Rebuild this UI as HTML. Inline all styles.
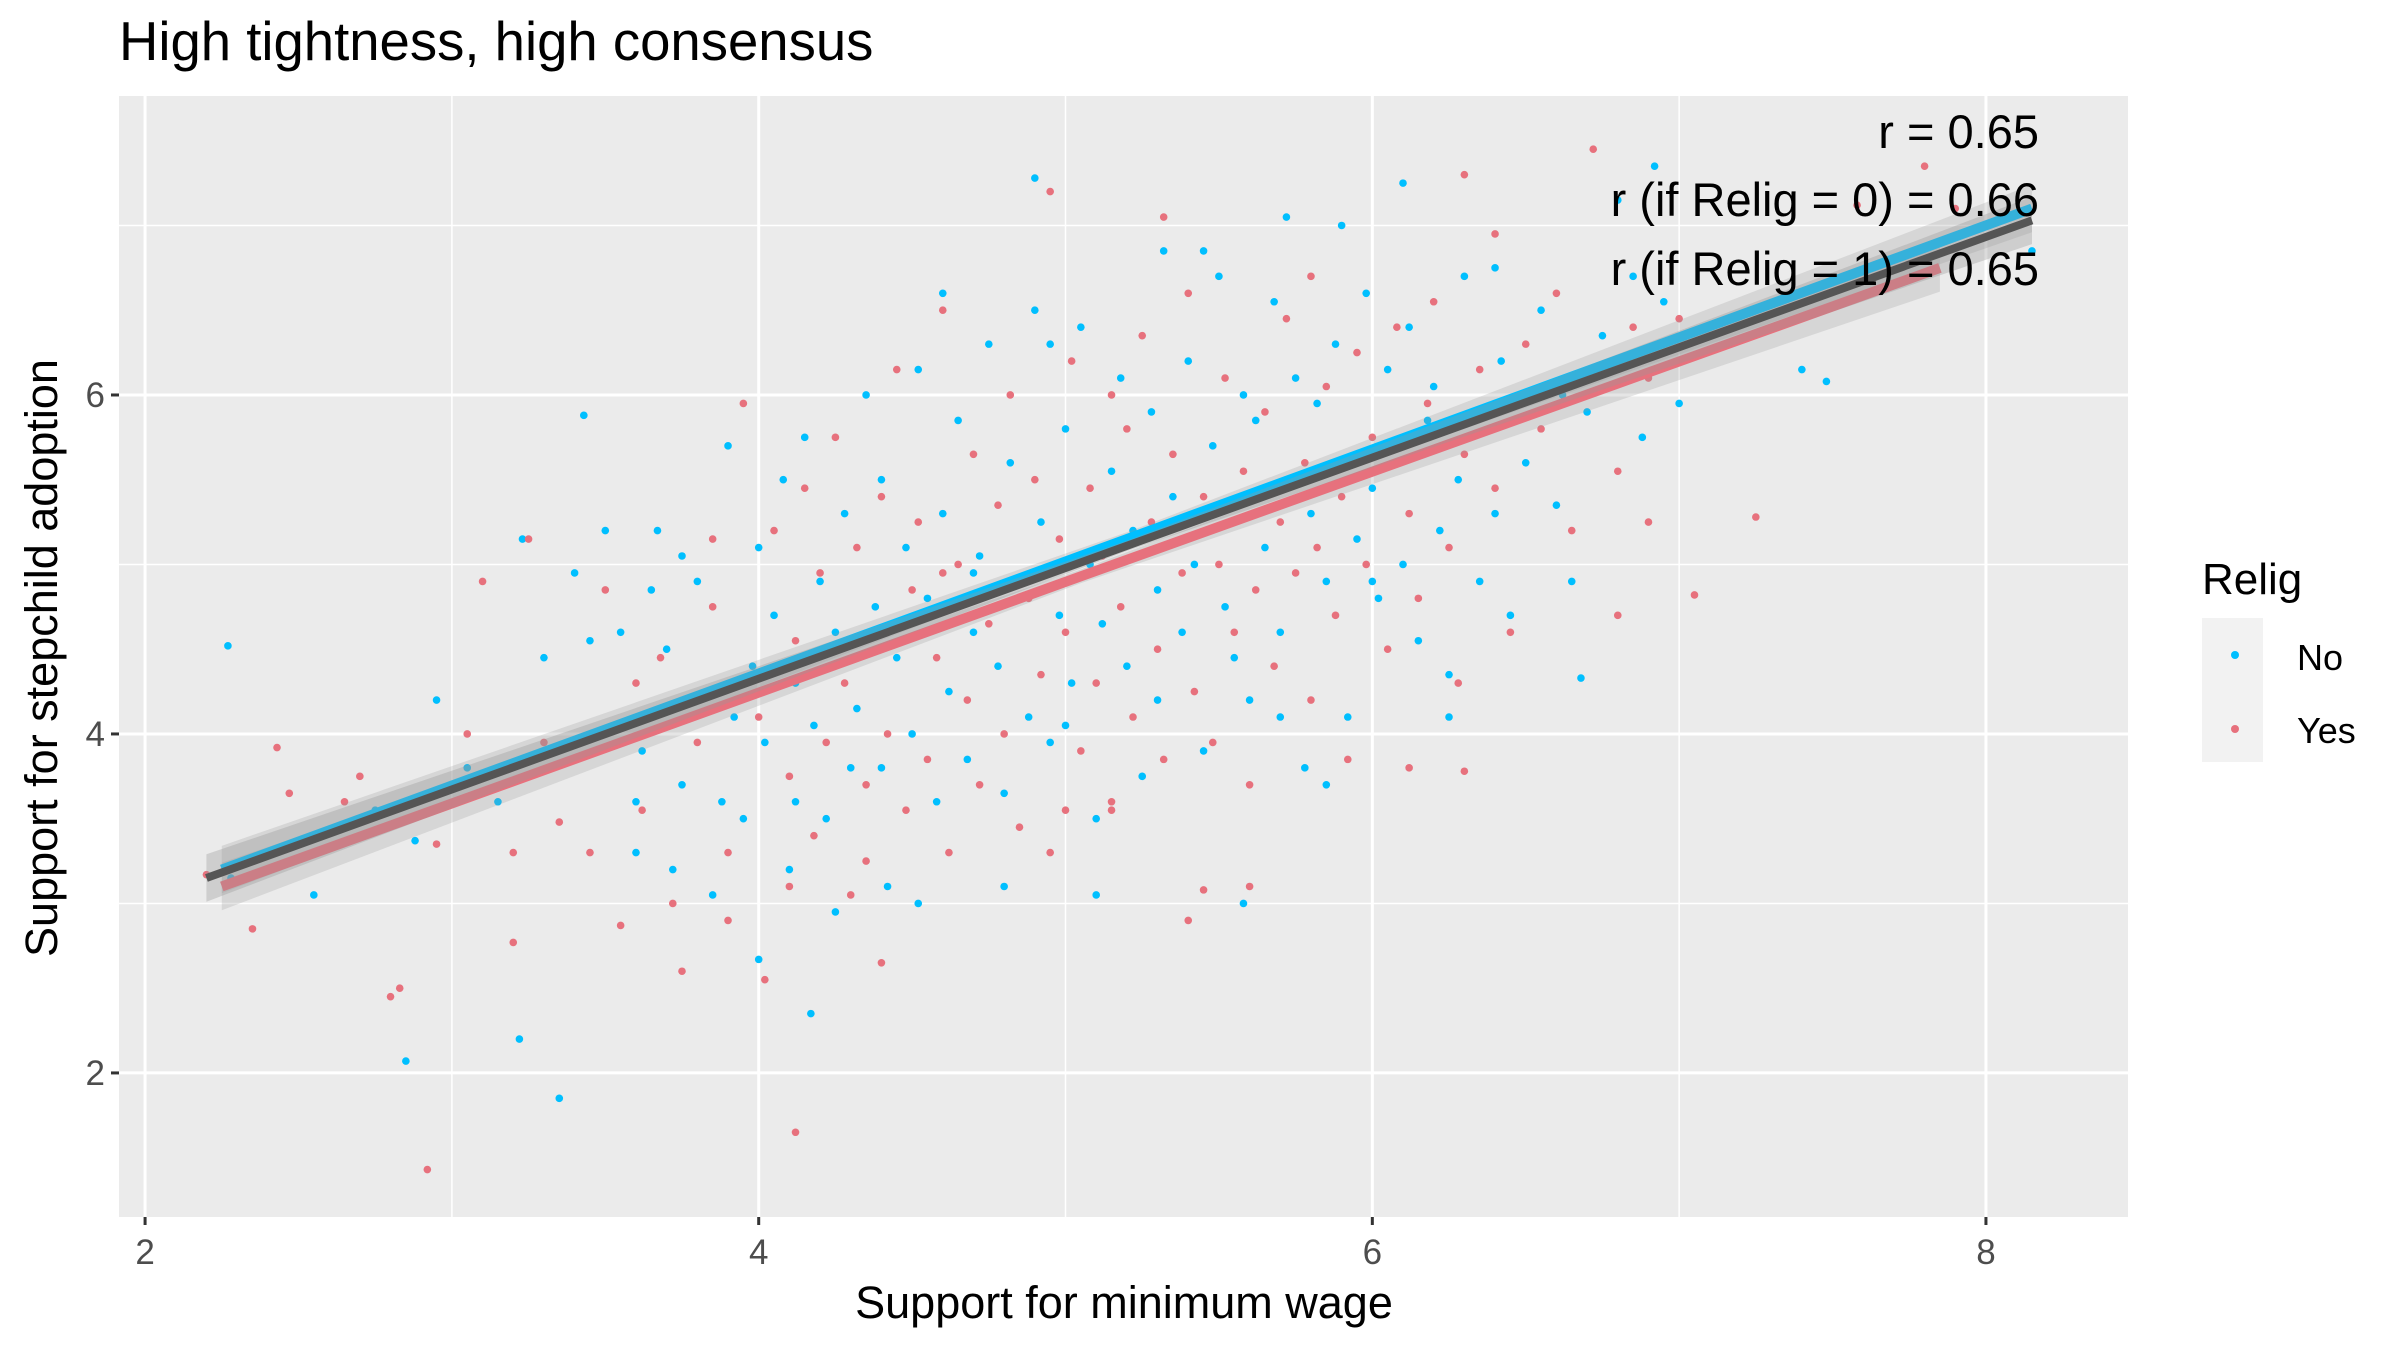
<!DOCTYPE html>
<html><head><meta charset="utf-8"><style>
html,body{margin:0;padding:0;background:#fff;}
svg{display:block;font-family:"Liberation Sans",sans-serif;}
</style></head><body>
<svg id="chart" width="2400" height="1350" viewBox="0 0 2400 1350" xmlns="http://www.w3.org/2000/svg">
<rect width="2400" height="1350" fill="#fff"/>
<text x="119" y="60" font-size="54.5" fill="#000">High tightness, high consensus</text>
<rect x="119" y="96" width="2009" height="1121" fill="#ebebeb"/>
<g id="grid"></g><g id="pts"></g><g id="fits"></g><g id="axes"></g>
<g font-size="47" text-anchor="end" fill="#000">
<text x="2039" y="148">r = 0.65</text>
<text x="2039" y="216">r (if Relig = 0) = 0.66</text>
<text x="2039" y="285">r (if Relig = 1) = 0.65</text>
</g>
<text x="1124" y="1318" font-size="45" text-anchor="middle">Support for minimum wage</text>
<text transform="translate(57,658) rotate(-90)" font-size="45" text-anchor="middle">Support for stepchild adoption</text>
<g>
<text x="2202" y="594" font-size="44">Relig</text>
<rect x="2202" y="618" width="61" height="144" fill="#f2f2f2"/>
<circle cx="2235" cy="655" r="4" fill="#00bfff"/>
<circle cx="2235" cy="729" r="4" fill="#e7717d"/>
<text x="2297" y="670" font-size="36">No</text>
<text x="2297" y="743" font-size="36">Yes</text>
</g>
</svg>
<script>
const xTicks = [2, 4, 6, 8];
const yTicks = [2, 4, 6];
const noPts = [[2.27,4.52],[2.28,3.15],[2.55,3.05],[2.85,2.07],[2.88,3.37],[2.95,4.2],[3.22,2.2],[3.23,5.15],[3.35,1.85],[3.43,5.88],[3.5,5.2],[3.67,5.2],[4.0,2.67],[4.17,2.35],[4.52,3.0],[4.9,7.28],[5.58,3.0],[5.72,7.05],[6.1,7.25],[6.92,7.35],[6.8,7.15],[7.4,6.15],[7.48,6.08],[8.15,6.85],[6.68,4.33],[5.1,3.05],[4.8,3.1],
[3.55,4.6],[3.6,3.3],[3.62,3.9],[3.7,4.5],[3.75,3.7],[3.8,4.9],[3.85,3.05],[3.9,5.7],[3.92,4.1],[3.95,3.5],[3.98,4.4],[4.0,5.1],[4.02,3.95],[4.05,4.7],[4.08,5.5],[4.1,3.2],[4.12,4.3],[4.15,5.75],[4.18,4.05],[4.2,4.9],[4.22,3.5],[4.25,4.6],[4.28,5.3],[4.3,3.8],[4.32,4.15],[4.35,6.0],[4.38,4.75],[4.4,5.5],[4.42,3.1],[4.45,4.45],[4.48,5.1],[4.5,4.0],[4.52,6.15],[4.55,4.8],[4.58,3.6],[4.6,5.3],[4.62,4.25],[4.65,5.85],[4.68,3.85],[4.7,4.6],[4.72,5.05],[4.75,6.3],[4.78,4.4],[4.8,3.65],[4.82,5.6],[4.85,4.9],[4.88,4.1],[4.9,6.5],[4.92,5.25],[4.95,3.95],[4.98,4.7],[5.0,5.8],[5.02,4.3],[5.05,6.4],[5.08,5.0],[5.1,3.5],[5.12,4.65],[5.15,5.55],[5.18,6.1],[5.2,4.4],[5.22,5.2],[5.25,3.75],[5.28,5.9],[5.3,4.85],[5.32,6.85],[5.35,5.4],[5.38,4.6],[5.4,6.2],[5.42,5.0],[5.45,3.9],[5.48,5.7],[5.5,6.7],[5.52,4.75],[5.55,5.35],[5.58,6.0],[5.6,4.2],[5.62,5.85],[5.65,5.1],[5.68,6.55],[5.7,4.6],[5.72,5.5],[5.75,6.1],[5.78,3.8],[5.8,5.3],[5.82,5.95],[5.85,4.9],[5.88,6.3],[5.9,5.6],[5.92,4.1],[5.95,5.15],[5.98,6.6],[6.0,5.45],[6.02,4.8],[6.05,6.15],[6.08,5.7],[6.1,5.0],[6.12,6.4],[6.15,4.55],[6.18,5.85],[6.2,6.05],[6.22,5.2],[6.25,4.35],[6.28,5.5],[6.3,6.7],[6.35,4.9],[6.4,5.3],[6.42,6.2],[6.45,4.7],[6.5,5.6],[6.55,6.5],[6.6,5.35],[6.62,6.0],[6.7,5.9],[6.75,6.35],[6.85,6.7],[6.88,5.75],[6.95,6.55],[7.0,5.95],[3.3,4.45],[3.4,4.95],[3.15,3.6],[3.45,4.55],[2.75,3.55],[3.05,3.8],[3.65,4.85],[3.72,3.2],[3.88,3.6],[4.25,2.95],[4.6,6.6],[4.95,6.3],[5.45,6.85],[5.9,7.0],[6.4,6.75],[6.0,4.9],[5.0,4.05],[5.3,4.2],[4.4,3.8],[4.7,4.95],[5.55,4.45],[6.65,4.9],[6.25,4.1],[3.75,5.05],[3.6,3.6],[4.12,3.6],[5.85,3.7],[5.7,4.1]];
const yesPts = [[2.2,3.17],[2.35,2.85],[2.43,3.92],[2.47,3.65],[2.7,3.75],[2.8,2.45],[2.83,2.5],[2.92,1.43],[3.1,4.9],[3.2,2.77],[3.35,3.48],[3.25,5.15],[4.12,1.65],[4.4,2.65],[5.15,3.55],[5.4,2.9],[5.45,3.08],[6.12,3.8],[6.3,3.78],[6.9,5.25],[7.05,4.82],[7.25,5.28],[6.8,4.7],[6.72,7.45],[7.8,7.35],[6.3,7.3],[4.95,7.2],[5.32,7.05],[7.58,7.12],[7.9,7.1],[5.8,6.7],[5.15,6.0],[3.85,5.15],
[3.4,3.85],[3.5,4.85],[3.55,2.87],[3.62,3.55],[3.68,4.45],[3.75,2.6],[3.8,3.95],[3.85,4.75],[3.9,3.3],[3.95,5.95],[4.0,4.1],[4.02,2.55],[4.05,5.2],[4.1,3.75],[4.12,4.55],[4.15,5.45],[4.18,3.4],[4.2,4.95],[4.22,3.95],[4.25,5.75],[4.28,4.3],[4.3,3.05],[4.32,5.1],[4.35,3.7],[4.38,4.6],[4.4,5.4],[4.42,4.0],[4.45,6.15],[4.48,3.55],[4.5,4.85],[4.52,5.25],[4.55,3.85],[4.58,4.45],[4.6,6.5],[4.62,3.3],[4.65,5.0],[4.68,4.2],[4.7,5.65],[4.72,3.7],[4.75,4.65],[4.78,5.35],[4.8,4.0],[4.82,6.0],[4.85,3.45],[4.88,4.8],[4.9,5.5],[4.92,4.35],[4.95,3.3],[4.98,5.15],[5.0,4.6],[5.02,6.2],[5.05,3.9],[5.08,5.45],[5.1,4.3],[5.12,5.05],[5.15,3.6],[5.18,4.75],[5.2,5.8],[5.22,4.1],[5.25,6.35],[5.28,5.25],[5.3,4.5],[5.32,3.85],[5.35,5.65],[5.38,4.95],[5.4,6.6],[5.42,4.25],[5.45,5.4],[5.48,3.95],[5.5,5.0],[5.52,6.1],[5.55,4.6],[5.58,5.55],[5.6,3.7],[5.62,4.85],[5.65,5.9],[5.68,4.4],[5.7,5.25],[5.72,6.45],[5.75,4.95],[5.78,5.6],[5.8,4.2],[5.82,5.1],[5.85,6.05],[5.88,4.7],[5.9,5.4],[5.92,3.85],[5.95,6.25],[5.98,5.0],[6.0,5.75],[6.05,4.5],[6.08,6.4],[6.12,5.3],[6.15,4.8],[6.18,5.95],[6.2,6.55],[6.25,5.1],[6.28,4.3],[6.3,5.65],[6.35,6.15],[6.4,5.45],[6.45,4.6],[6.5,6.3],[6.55,5.8],[6.6,6.6],[6.65,5.2],[6.7,6.0],[6.8,5.55],[6.85,6.4],[6.9,6.1],[7.0,6.45],[3.2,3.3],[3.3,3.95],[3.45,3.3],[3.6,4.3],[3.72,3.0],[3.9,2.9],[3.05,4.0],[2.95,3.35],[2.65,3.6],[4.1,3.1],[4.35,3.25],[4.6,4.95],[5.0,3.55],[5.6,3.1],[6.4,6.95]];
const fitAllX = [2.2, 5.2, 8.15];
const fitAllY = [3.15, 5.11, 7.03];
const fitAllSE = [0.14, 0.03, 0.14];
const fitNoX = [2.25, 5.2, 8.15];
const fitNoY = [3.2, 5.15, 7.1];
const fitNoSE = [0.14, 0.04, 0.14];
const fitYesX = [2.25, 5.05, 7.85];
const fitYesY = [3.1, 4.93, 6.75];
const fitYesSE = [0.14, 0.04, 0.14];

const NS = 'http://www.w3.org/2000/svg';
const X0 = 119, X1 = 2128, Y0 = 96, Y1 = 1217;
const xMin = 1.915, xMax = 8.463, yMin = 1.15, yMax = 7.764;
const sx = v => X0 + (v - xMin) / (xMax - xMin) * (X1 - X0);
const sy = v => Y1 - (v - yMin) / (yMax - yMin) * (Y1 - Y0);
function mk(tag, attrs, parent) {
  const e = document.createElementNS(NS, tag);
  for (const k in attrs) e.setAttribute(k, attrs[k]);
  parent.appendChild(e);
  return e;
}
const grid = document.getElementById('grid');
for (let v = 3; v <= 7; v += 2) {
  const l = mk('line', {x1: sx(v), x2: sx(v), y1: Y0, y2: Y1, stroke: '#fff', 'stroke-width': 1.5}, grid);
  
  
}
for (let v = 3; v <= 7; v += 2) {
  const l = mk('line', {x1: X0, x2: X1, y1: sy(v), y2: sy(v), stroke: '#fff', 'stroke-width': 1.5}, grid);
  
  
}
const axes = document.getElementById('axes');
xTicks.forEach(v => {
  const l = mk('line', {x1: sx(v), x2: sx(v), y1: Y0, y2: Y1, stroke: '#fff', 'stroke-width': 3}, grid);
  
  
  const t = mk('line', {x1: sx(v), x2: sx(v), y1: Y1, y2: Y1 + 8, stroke: '#333', 'stroke-width': 3}, axes);
  
  
  const tx = mk('text', {x: sx(v), y: Y1 + 47, 'font-size': 35, fill: '#4d4d4d', 'text-anchor': 'middle'}, axes);
  tx.textContent = v;
  
  
});
yTicks.forEach(v => {
  const l = mk('line', {x1: X0, x2: X1, y1: sy(v), y2: sy(v), stroke: '#fff', 'stroke-width': 3}, grid);
  
  
  const t = mk('line', {x1: X0 - 8, x2: X0, y1: sy(v), y2: sy(v), stroke: '#333', 'stroke-width': 3}, axes);
  
  
  const tx = mk('text', {x: X0 - 14, y: sy(v) + 12, 'font-size': 35, fill: '#4d4d4d', 'text-anchor': 'end'}, axes);
  tx.textContent = v;
  
  
});
const pts = document.getElementById('pts');
noPts.forEach(p => {
  const c = mk('circle', {cx: sx(p[0]), cy: sy(p[1]), r: 3.8, fill: '#00bfff'}, pts);
  
  
});
yesPts.forEach(p => {
  const c = mk('circle', {cx: sx(p[0]), cy: sy(p[1]), r: 3.8, fill: '#e7717d'}, pts);
  
  
});
const fits = document.getElementById('fits');
function ribbon(xs, ys, se) {
  const up = xs.map((x, i) => sx(x) + ',' + sy(ys[i] + se[i]));
  const lo = xs.map((x, i) => sx(x) + ',' + sy(ys[i] - se[i])).reverse();
  return up.concat(lo).join(' ');
}
function linePts(xs, ys) { return xs.map((x, i) => sx(x) + ',' + sy(ys[i])).join(' '); }
const ryes = mk('polygon', {points: ribbon(fitYesX, fitYesY, fitYesSE), fill: '#999', 'fill-opacity': 0.25}, fits);


const rno = mk('polygon', {points: ribbon(fitNoX, fitNoY, fitNoSE), fill: '#999', 'fill-opacity': 0.25}, fits);


const lyes = mk('polyline', {points: linePts(fitYesX, fitYesY), fill: 'none', stroke: '#e7717d', 'stroke-width': 10}, fits);


const lno = mk('polyline', {points: linePts(fitNoX, fitNoY), fill: 'none', stroke: '#00bfff', 'stroke-width': 10}, fits);


const rall = mk('polygon', {points: ribbon(fitAllX, fitAllY, fitAllSE), fill: '#999', 'fill-opacity': 0.35}, fits);


const lall = mk('polyline', {points: linePts(fitAllX, fitAllY), fill: 'none', stroke: '#555', 'stroke-width': 8}, fits);


</script>
</body></html>
